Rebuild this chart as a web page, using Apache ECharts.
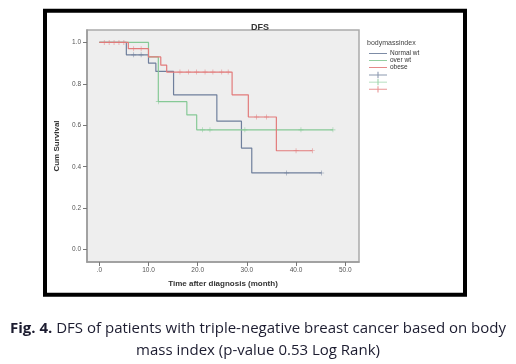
<!DOCTYPE html>
<html>
<head>
<meta charset="utf-8">
<script src="https://cdn.jsdelivr.net/npm/echarts@6/dist/echarts.min.js"></script>
<style>
  html, body { margin: 0; padding: 0; background: #fff; }
  #chart { width: 516px; height: 364px; }
</style>
</head>
<body>
<div id="chart"></div>
<script>
// group names
var groups = ['Normal wt', 'over wt', 'obese'];
var groupColors = ['#6f7f9c', '#86c996', '#e27b7b'];

// Kaplan-Meier steps: [time (month), cum survival]
var normalSteps = [[0, 1.0], [5.5, 0.94], [10, 0.90], [11.5, 0.86], [15.1, 0.747], [23.9, 0.62], [28.9, 0.49], [31.0, 0.37], [45.2, 0.37]];
var overSteps = [[0, 1.0], [10, 0.93], [12, 0.714], [17.8, 0.65], [19.8, 0.578], [47.5, 0.578]];
var obeseSteps = [[0, 1.0], [5.9, 0.97], [10, 0.93], [12.5, 0.89], [13.7, 0.857], [27.0, 0.747], [30.3, 0.64], [36.0, 0.477], [43.3, 0.477]];

// censored observations
var normalCensored = [[7, 0.94], [8.5, 0.94], [38.1, 0.37], [45.2, 0.37]];
var overCensored = [[12, 0.714], [21, 0.578], [22.5, 0.578], [29.6, 0.578], [41, 0.578], [47.5, 0.578]];
var obeseCensored = [[1, 1], [2, 1], [3, 1], [4, 1], [5, 1], [7, 0.97], [8.5, 0.97], [16.4, 0.857], [18.1, 0.857], [19.8, 0.857], [21.5, 0.857], [23.1, 0.857], [24.9, 0.857], [26.2, 0.857], [32, 0.64], [34, 0.64], [40, 0.477], [43.3, 0.477]];

// tick labels
var xTicks = [0, 10, 20, 30, 40, 50];
var xTickLabels = ['.0', '10.0', '20.0', '30.0', '40.0', '50.0'];
var yTicks = [0, 0.2, 0.4, 0.6, 0.8, 1.0];

var font = 'Liberation Sans';
var plusIcon = 'path://M0,4.5h20v1h-20zM9.4,1.5h1.2v7h-1.2z';
var lineIcon = 'path://M0,4.5h20v1h-20z';
var censorSymbol = 'path://M4.4,0h1.2v10h-1.2zM0,4.4h10v1.2h-10z';

var myChart = echarts.init(document.getElementById('chart'));

var stepSets = [normalSteps, overSteps, obeseSteps];
var censorSets = [normalCensored, overCensored, obeseCensored];
var series = [];
stepSets.forEach(function (d, i) {
  series.push({
    name: groups[i],
    type: 'line',
    step: 'end',
    data: d,
    showSymbol: false,
    symbol: 'none',
    lineStyle: { color: groupColors[i], width: 1.2 },
    itemStyle: { color: groupColors[i] },
    z: 3 + i
  });
});
censorSets.forEach(function (d, i) {
  series.push({
    name: groups[i] + '-censored',
    type: 'scatter',
    data: d,
    symbol: censorSymbol,
    symbolSize: 5,
    itemStyle: { color: groupColors[i] },
    z: 6
  });
});

var legendData = groups.map(function (g) {
  return { name: g, icon: lineIcon };
}).concat(groups.map(function (g) {
  return { name: g + '-censored', icon: plusIcon };
}));

var option = {
  animation: false,
  textStyle: { fontFamily: font },
  title: [
    {
      text: 'DFS',
      left: 255,
      top: 18,
      textAlign: 'center',
      textStyle: { fontSize: 9, fontWeight: 'bold', color: '#333', fontFamily: font }
    },
    {
      text: 'bodymassindex',
      left: 362,
      top: 35,
      textStyle: { fontSize: 7, fontWeight: 'normal', color: '#444', fontFamily: font }
    }
  ],
  legend: {
    orient: 'vertical',
    left: 364,
    top: 45,
    itemWidth: 18,
    itemHeight: 8,
    itemGap: 0,
    data: legendData,
    formatter: function (name) {
      return name.indexOf('-censored') >= 0 ? '' : name;
    },
    textStyle: { fontSize: 6.5, color: '#333', fontFamily: font, padding: [0, 0, 0, -2] }
  },
  grid: {
    left: 87,
    top: 30,
    right: 157,
    bottom: 102,
    show: true,
    backgroundColor: '#eeeeee',
    borderColor: '#aaaaaa',
    borderWidth: 1.5
  },
  xAxis: {
    type: 'value',
    min: -2.5,
    max: 52.8,
    name: 'Time after diagnosis (month)',
    nameLocation: 'middle',
    nameGap: 18,
    nameTextStyle: { fontSize: 8, fontWeight: 'bold', color: '#333', fontFamily: font },
    axisLine: { show: true, onZero: false, lineStyle: { color: '#999', width: 1.5 } },
    axisTick: { show: true, length: 4, customValues: xTicks, lineStyle: { color: '#777' } },
    axisLabel: {
      customValues: xTicks,
      margin: 5,
      fontSize: 6.5,
      color: '#555',
      formatter: function (v) { return xTickLabels[xTicks.indexOf(v)]; }
    },
    splitLine: { show: false }
  },
  yAxis: {
    type: 'value',
    min: -0.06,
    max: 1.06,
    name: 'Cum Survival',
    nameLocation: 'middle',
    nameGap: 26,
    nameTextStyle: { fontSize: 8, fontWeight: 'bold', color: '#333', fontFamily: font },
    axisLine: { show: true, onZero: false, lineStyle: { color: '#999', width: 1.5 } },
    axisTick: { show: true, length: 4, customValues: yTicks, lineStyle: { color: '#777' } },
    axisLabel: {
      customValues: yTicks,
      margin: 6,
      fontSize: 6.5,
      color: '#555',
      formatter: function (v) { return v.toFixed(1); }
    },
    splitLine: { show: false }
  },
  graphic: [
    {
      type: 'rect',
      shape: { x: 45, y: 10.7, width: 420, height: 284 },
      style: { fill: 'none', stroke: '#000', lineWidth: 4 },
      silent: true
    },
    {
      type: 'text',
      x: 258,
      y: 329,
      style: {
        text: '{b|Fig. 4.} DFS of patients with triple-negative breast cancer based on body',
        align: 'center',
        verticalAlign: 'middle',
        fill: '#1c1c30',
        font: '15px "Open Sans"',
        rich: { b: { fontWeight: 'bold', fontSize: 15, fontFamily: 'Open Sans', fill: '#1c1c30' } }
      }
    },
    {
      type: 'text',
      x: 258,
      y: 351,
      style: {
        text: 'mass index (p-value 0.53 Log Rank)',
        align: 'center',
        verticalAlign: 'middle',
        fill: '#1c1c30',
        font: '15px "Open Sans"'
      }
    }
  ],
  series: series
};

myChart.setOption(option);
</script>
</body>
</html>
